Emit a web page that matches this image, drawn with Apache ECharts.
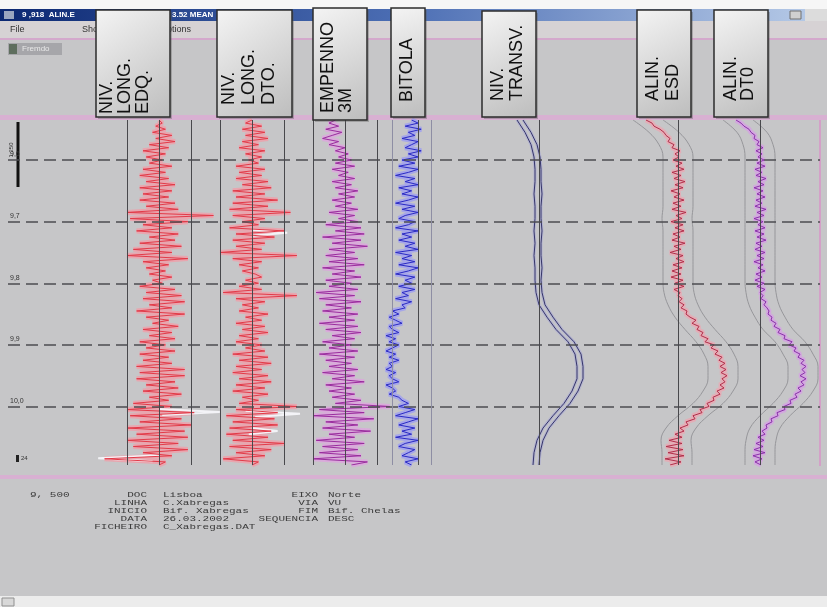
<!DOCTYPE html>
<html>
<head>
<meta charset="utf-8">
<title>Registo de via</title>
<script src="https://cdn.jsdelivr.net/npm/echarts@6/dist/echarts.min.js"></script>
<style>
  html, body { margin: 0; padding: 0; background: #c6c6c8; }
  #chart { width: 827px; height: 607px; }
</style>
</head>
<body>
<div id="chart"></div>
<script>
// ---- chainage (m) along the track ----
const START = 9535, END = 10095;
// dense traces are sampled every 5 m, smooth traces every 20 m
const stations = [];
for (let s = START; s <= END; s += 5) stations.push(s);
const coarseStations = [];
for (let s = START; s <= END; s += 20) coarseStations.push(s);
const kmMarks = [9600, 9700, 9800, 9900, 10000];
const kmLabels = ['9,6', '9,7', '9,8', '9,9', '10,0'];

// ---- NIV. LONG. EDQ. (mm) ----
const nivLongEdq = [
  0, 1, -1, 2, -2, 4, -1, 5, -3, 3, -5, 2, -4,
  1, -3, 4, -5, 2, -6, 3, -4, 5, -6, 4, -5, 3,
  -6, 5, -4, 6, -10, 17, -9, 9, -5, 4, -7, 6, -3,
  5, -6, 7, -8, 4, -10, 9, -5, 3, -4, 2, -3, 4,
  -2, 1, -6, 5, -4, 7, -5, 8, -3, 4, -7, 8, -4,
  3, -2, 6, -5, 4, -3, 5, -6, 2, -4, 5, -6, 3,
  -5, 4, -7, 8, -6, 8, -7, 5, -4, 6, -5, 7, -3,
  3, -8, 4, -10, 11, -9, 7, -6, 10, -10, 8, -7, 9,
  -10, 6, -8, 9, -5, 4, -17, 2, 0
];
// ---- NIV. LONG. DTO. (mm) ----
const nivLongDto = [
  0, -2, 3, -3, 4, -2, 5, -3, 2, -4, 4, -2, 3,
  -1, 2, -5, 4, -4, 3, -5, 5, -3, 6, -6, 4, -5,
  8, -6, 5, -7, 12, -6, 4, -3, 2, -7, 10, -5, 7,
  -6, 4, -5, 3, -10, 14, -6, 3, -4, 2, -3, 1, 3,
  -2, 2, -4, 3, -9, 14, -5, 4, -3, 2, -4, 5, -2,
  3, -5, 4, -3, 5, -4, 2, -5, 3, -2, 4, -6, 5,
  -4, 6, -5, 3, -6, 5, -4, 6, -5, 4, -6, 5, -3,
  2, -4, 14, -5, 8, -8, 7, -6, 8, -7, 6, -8, 5,
  -6, 10, -7, 6, -5, 4, -9, 2, 0
];
// ---- EMPENO 3M (mm) ----
const empeno3m = [
  -3, -5, -2, -6, -1, -4, -7, -2, -5, 0, -3, 1, -2,
  2, -3, 3, -4, 1, -2, 3, -4, 2, -3, 4, -2, 3,
  -4, 2, -3, 4, -5, 3, -2, 4, -6, 5, -3, 6, -7,
  5, -4, 7, -5, 3, -6, 4, -5, 6, -7, 3, -4, 5,
  -6, 2, -5, 4, -9, 3, -8, 5, -6, 2, -7, 4, -5,
  3, -8, 4, -6, 5, -4, 3, -7, 2, -5, 4, -8, 3,
  -6, 2, -5, 4, -7, 3, -4, 6, -6, 2, -5, 3, -4,
  5, -3, 14, -8, 6, -10, 9, -6, 4, -7, 8, -5, 3,
  -9, 6, -7, 4, -8, 5, -10, 7, 2
];
// ---- BITOLA (mm, deviation from nominal gauge) ----
const bitola = [
  -2, 0, -4, 1, -3, -1, -5, 0, -2, -4, 1, -3, 0,
  -5, -1, -6, 0, -3, -7, -1, -4, 0, -6, -2, -5, 0,
  -3, -7, -1, -5, 0, -4, -6, -1, -3, -7, 0, -5, -2,
  -6, -1, -4, 0, -7, -2, -5, -1, -6, 0, -3, -7, -1,
  -4, -2, -6, -1, -5, -3, -7, -2, -5, -4, -8, -6, -9,
  -7, -5, -9, -8, -6, -10, -7, -9, -6, -8, -10, -7, -9,
  -6, -9, -8, -10, -7, -9, -8, -6, -10, -8, -7, -9, -6,
  -5, -3, -6, -1, -4, -7, 0, -3, -6, -1, -5, -2, -7,
  0, -4, -6, -1, -3, -5, 0, -4, -2
];
// ---- NIV. TRANSV. (mm), two recorded channels ----
const nivTransvA = [-44, -28, -16, -10, -8, -8, -10, -8, -8, -10, -8, -10, -8, -8, -6, 0, 16, 34, 58, 72, 76, 76, 66, 50, 28, 8, -4, -10, -12];
const nivTransvB = [-32, -16, -4, 2, 4, 4, 6, 4, 4, 6, 4, 4, 6, 4, 6, 12, 28, 46, 70, 84, 88, 88, 78, 62, 40, 20, 8, 2, 0];
// ---- ALIN. ESQ. (mm) and its tolerance band ----
const alinEsq = [
  -32, -26, -24, -18, -14, -12, -8, -10, -4, -6, 2, -3, 1,
  -5, 4, -2, 6, -6, 3, -4, 7, -3, 5, -7, 2, -4,
  6, -5, 3, -6, 8, -2, 4, -7, 5, -3, 6, -5, 2,
  -6, 7, -4, 3, -8, 5, -2, 6, -5, 4, -6, 3, -7,
  5, -3, 6, -4, 2, 0, 4, 1, 6, 3, 9, 8, 12,
  18, 14, 21, 19, 25, 23, 30, 27, 36, 33, 40, 37, 44,
  41, 47, 42, 48, 43, 49, 44, 47, 42, 46, 39, 42, 35,
  36, 29, 31, 22, 24, 15, 17, 8, 10, 2, 6, -3, 4,
  -9, 4, -12, 5, -10, 6, -13, 3, -8
];
const alinEsqLow = [-45, -29, -19, -15, -15, -15, -15, -15, -16, -15, -15, -15, -15, -15, -14, -10, -3, 7, 18, 26, 30, 30, 25, 15, 0, -12, -17, -16, -16];
const alinEsqHigh = [-15, 1, 11, 15, 15, 15, 15, 15, 14, 15, 15, 15, 15, 15, 16, 20, 27, 37, 48, 56, 60, 60, 55, 45, 30, 18, 13, 14, 14];
// ---- ALIN. DTO. (mm) and its tolerance band ----
const alinDto = [
  -24, -19, -16, -11, -9, -5, -6, -1, -3, 3, -4, 2, -2,
  4, -3, 5, -5, 2, -4, 6, -2, 4, -6, 3, -3, 5,
  -4, 2, -5, 6, -3, 4, -6, 3, -2, 5, -5, 4, -3,
  6, -4, 2, -5, 5, -3, 4, -6, 3, -2, 5, -4, 2,
  -5, 4, -3, 5, 0, 3, 1, 6, 4, 7, 9, 8, 12,
  11, 16, 14, 20, 18, 25, 24, 32, 29, 36, 34, 40, 38,
  44, 41, 46, 42, 45, 40, 46, 41, 44, 38, 41, 35, 37,
  30, 31, 24, 25, 17, 18, 11, 12, 6, 7, 2, 5, -2,
  4, -4, 3, -6, 5, -7, 2, -5, 1
];
const alinDtoLow = [-37, -23, -17, -15, -15, -15, -15, -15, -15, -15, -15, -15, -15, -15, -14, -11, -5, 3, 15, 23, 28, 28, 23, 13, 0, -10, -14, -15, -15];
const alinDtoHigh = [-7, 7, 13, 15, 15, 15, 15, 15, 15, 15, 15, 15, 15, 15, 16, 19, 25, 33, 45, 53, 58, 58, 53, 43, 30, 20, 16, 15, 15];

// ---- previous-run excursions left on the longitudinal level tracks (mm) ----
const prevEdqStations = [[10004, 10009, 10014], [10079, 10084, 10089]];
const prevEdqValues   = [[0, 19, 1], [0, -19, -2]];
const prevDtoStations = [[9713, 9718, 9723], [10007, 10012, 10017], [10035, 10040, 10045]];
const prevDtoValues   = [[0, 11, 0], [-2, 15, 1], [0, 8, -1]];

// ---- panel headings ----
const panelTitles = ['NIV.\nLONG.\nEDQ.', 'NIV.\nLONG.\nDTO.', 'EMPENNO\n3M', 'BITOLA', 'NIV.\nTRANSV.', 'ALIN.\nESD', 'ALIN.\nDT0'];

// ---- run information block ----
const infoStart = '9, 500';
const infoLabels = ['DOC', 'LINHA', 'INICIO', 'DATA', 'FICHEIRO'];
const infoValues = ['Lisboa', 'C.Xabregas', 'Bif. Xabregas', '26.03.2002', 'C_Xabregas.DAT'];
const infoLabels2 = ['EIXO', 'VIA', 'FIM', 'SEQUENCIA'];
const infoValues2 = ['Norte', 'VU', 'Bif. Chelas', 'DESC'];

// ================= layout & styling =================
const PLOT_TOP = 120, PLOT_H = 345;
const DARK = '#48484c', LIGHT = '#8e8ea4';

const grids = [], xAxes = [], yAxes = [], series = [];
function addGrid(left, width, min, max) {
  const i = grids.length;
  grids.push({ left: left, width: width, top: PLOT_TOP, height: PLOT_H });
  xAxes.push({ type: 'value', gridIndex: i, min: min, max: max, show: false });
  yAxes.push({ type: 'value', gridIndex: i, min: START, max: END, inverse: true, show: false });
  return i;
}
function pairs(values, st) { return values.map((v, k) => [v, st[k]]); }
function line(gi, data, color, width, z, extra) {
  return Object.assign({
    type: 'line', xAxisIndex: gi, yAxisIndex: gi, data: data,
    showSymbol: false, symbol: 'none', silent: true, z: z,
    lineStyle: { color: color, width: width }
  }, extra || {});
}
function guides(list) {
  return {
    silent: true, symbol: ['none', 'none'], label: { show: false },
    data: list.map(g => ({ xAxis: g[0], lineStyle: { color: g[1], width: 1, type: 'solid' } }))
  };
}

// background grid: chainage marks across the whole recording
const bg = addGrid(8, 812, 0, 1);
series.push(line(bg, [[0, START]], 'transparent', 0, 6, {
  markLine: {
    silent: true, symbol: ['none', 'none'],
    lineStyle: { color: '#4c4c50', width: 1.6, type: [12, 6] },
    label: { show: true, position: 'insideStartTop', color: '#333', fontSize: 7, distance: 2,
             formatter: p => kmLabels[kmMarks.indexOf(p.value)] },
    data: kmMarks.map(v => ({ yAxis: v }))
  }
}));

// dense single-channel traces
const denseTracks = [
  { values: nivLongEdq, left: 95,  width: 128, min: -20, max: 20, color: '#e23a48', halo: 'rgba(246,152,164,0.7)',
    marks: [[-10, DARK], [0, DARK], [10, DARK]], prevSt: prevEdqStations, prevV: prevEdqValues },
  { values: nivLongDto, left: 188, width: 128, min: -20, max: 20, color: '#e23a48', halo: 'rgba(246,152,164,0.7)',
    marks: [[-10, DARK], [0, DARK], [10, DARK]], prevSt: prevDtoStations, prevV: prevDtoValues },
  { values: empeno3m,   left: 281, width: 128, min: -20, max: 20, color: '#9a2c9e', halo: 'rgba(228,156,228,0.65)',
    marks: [[-10, DARK], [0, DARK], [10, DARK]] },
  { values: bitola,     left: 370, width: 80,  min: -15, max: 10, color: '#2a2ac4', halo: 'rgba(152,152,246,0.7)',
    marks: [[-8, LIGHT], [0, DARK], [4, LIGHT]] }
];
denseTracks.forEach(t => {
  const gi = addGrid(t.left, t.width, t.min, t.max);
  const data = pairs(t.values, stations);
  series.push(line(gi, data, t.halo, 5, 2, { markLine: guides(t.marks) }));
  (t.prevSt || []).forEach((st, k) => {
    series.push(line(gi, pairs(t.prevV[k], st), 'rgba(246,246,250,0.95)', 2, 3));
  });
  series.push(line(gi, data, t.color, 1, 4));
});

// cant: two channels recorded side by side
const gT = addGrid(500, 100, -78, 122);
series.push(line(gT, pairs(nivTransvA, coarseStations), 'rgba(160,160,215,0.5)', 3, 2, { markLine: guides([[0, DARK]]) }));
series.push(line(gT, pairs(nivTransvB, coarseStations), 'rgba(160,160,215,0.5)', 3, 2));
series.push(line(gT, pairs(nivTransvA, coarseStations), '#363668', 1, 4));
series.push(line(gT, pairs(nivTransvB, coarseStations), '#363668', 1, 4));

// alignment traces with tolerance band
const alignTracks = [
  { values: alinEsq, low: alinEsqLow, high: alinEsqHigh, left: 628, color: '#b22e4a', halo: 'rgba(242,162,174,0.65)' },
  { values: alinDto, low: alinDtoLow, high: alinDtoHigh, left: 710, color: '#8a30aa', halo: 'rgba(216,152,234,0.65)' }
];
alignTracks.forEach(t => {
  const gi = addGrid(t.left, 110, -50, 60);
  series.push(line(gi, pairs(t.low, coarseStations), '#96969a', 1, 2, { smooth: 0.4, markLine: guides([[0, DARK]]) }));
  series.push(line(gi, pairs(t.high, coarseStations), '#96969a', 1, 2, { smooth: 0.4 }));
  const data = pairs(t.values, stations);
  series.push(line(gi, data, t.halo, 5, 3));
  series.push(line(gi, data, t.color, 1, 4));
});

// ================= window chrome & annotations =================
const chrome = [];
function rect(x, y, w, h, fill, z, stroke) {
  chrome.push({ type: 'rect', shape: { x: x, y: y, width: w, height: h }, z: z || 0, silent: true,
                style: { fill: fill, stroke: stroke || null, lineWidth: stroke ? 1 : 0 } });
}
function text(x, y, s, font, color, align, z, extra) {
  chrome.push(Object.assign({ type: 'text', x: x, y: y, z: z || 5, silent: true,
    style: { text: s, font: font, fill: color, align: align || 'left', verticalAlign: 'middle' } }, extra || {}));
}
// window frame
rect(0, 0, 827, 9, '#f6f6f6', 0);
rect(0, 9, 805, 12, new echarts.graphic.LinearGradient(0, 0, 1, 0, [
  { offset: 0, color: '#0c2872' }, { offset: 0.5, color: '#4c6eb4' }, { offset: 1, color: '#b4c8e6' }]), 0);
rect(790, 11, 11, 8, '#d0d0d0', 1, '#707070');
rect(805, 9, 22, 12, '#dcdcdc', 0);
text(22, 15, '9 ,918  ALIN.E', 'bold 8px "Liberation Sans"', '#ffffff', 'left', 1);
text(172, 15, '3.52 MEAN', 'bold 8px "Liberation Sans"', '#ffffff', 'left', 1);
rect(4, 11, 10, 8, '#9aa6c0', 1);
rect(0, 21, 827, 17, '#d6d2d4', 0);
text(10, 30, 'File', '9px "Liberation Sans"', '#333', 'left', 1);
text(82, 30, 'Show', '9px "Liberation Sans"', '#333', 'left', 1);
text(160, 30, 'Options', '9px "Liberation Sans"', '#333', 'left', 1);
rect(0, 38, 827, 2, '#d4a8cc', 1);
rect(8, 43, 54, 12, '#a6a6aa', 1);
rect(9, 44, 8, 10, '#5e6e5e', 2);
text(22, 49, 'Fremdo', '8px "Liberation Sans"', '#e8e8e8', 'left', 2);
rect(0, 115, 827, 5, '#d8b0d2', 1);
rect(819, 120, 2, 346, '#d4a0c8', 1);
rect(0, 475, 827, 4, '#d8b0d2', 1);
rect(0, 596, 827, 11, '#ececec', 0);
rect(2, 598, 12, 8, '#d8d8d8', 1, '#909090');
// chainage scale bar
chrome.push({ type: 'line', shape: { x1: 18, y1: 122, x2: 18, y2: 187 }, z: 3, silent: true,
              style: { stroke: '#111', lineWidth: 3 } });
text(11, 150, '1:250', '6px "Liberation Sans"', '#333', 'center', 3, { rotation: Math.PI / 2 });
rect(16, 455, 3, 7, '#222', 3);
text(21, 458, '24', '6px "Liberation Sans"', '#333', 'left', 3);

// panel heading boxes
const boxes = [
  { x: 96,  y: 10, w: 74, h: 107, tx: 98,  ty: 114, lh: 18 },
  { x: 217, y: 10, w: 75, h: 107, tx: 219, ty: 105, lh: 20 },
  { x: 313, y: 8,  w: 54, h: 112, tx: 319, ty: 113, lh: 18 },
  { x: 391, y: 8,  w: 34, h: 109, tx: 398, ty: 102, lh: 19 },
  { x: 482, y: 11, w: 54, h: 106, tx: 489, ty: 101, lh: 19 },
  { x: 637, y: 10, w: 54, h: 107, tx: 643, ty: 101, lh: 20 },
  { x: 714, y: 10, w: 54, h: 107, tx: 723, ty: 101, lh: 17 }
];
boxes.forEach((b, i) => {
  chrome.push({ type: 'rect', z: 20, silent: true, shape: { x: b.x + 2, y: b.y + 2, width: b.w, height: b.h },
                style: { fill: 'rgba(90,90,90,0.35)' } });
  chrome.push({ type: 'rect', z: 21, silent: true, shape: { x: b.x, y: b.y, width: b.w, height: b.h },
                style: { fill: new echarts.graphic.LinearGradient(0, 0, 1, 1, [
                  { offset: 0, color: '#f4f4f4' }, { offset: 1, color: '#bdbdbd' }]),
                  stroke: '#2c2c2c', lineWidth: 1.5 } });
  chrome.push({ type: 'text', z: 22, silent: true, x: b.tx, y: b.ty, rotation: Math.PI / 2,
                style: { text: panelTitles[i], font: '18px "Liberation Sans", Arial, sans-serif', fill: '#111',
                         align: 'left', verticalAlign: 'top', lineHeight: b.lh } });
});

// run information block
const MONO = '11px "Liberation Mono", "DejaVu Sans Mono", monospace';
const rowY = [495, 503, 511, 519, 527];
const info = [];
function infoText(x, y, s, align) {
  info.push({ type: 'text', x: x, y: y / 0.72, silent: true,
              style: { text: s, font: MONO, fill: '#3a3a3a', align: align, verticalAlign: 'middle' } });
}
infoText(30, rowY[0], infoStart, 'left');
infoLabels.forEach((s, i) => infoText(147, rowY[i], s, 'right'));
infoValues.forEach((s, i) => infoText(163, rowY[i], s, 'left'));
infoLabels2.forEach((s, i) => infoText(318, rowY[i], s, 'right'));
infoValues2.forEach((s, i) => infoText(328, rowY[i], s, 'left'));
chrome.push({ type: 'group', scaleY: 0.72, z: 5, children: info });

const chart = echarts.init(document.getElementById('chart'), null, { renderer: 'canvas' });
chart.setOption({
  backgroundColor: '#c6c6c8',
  animation: false,
  grid: grids,
  xAxis: xAxes,
  yAxis: yAxes,
  series: series,
  graphic: { elements: chrome }
});
</script>
</body>
</html>
